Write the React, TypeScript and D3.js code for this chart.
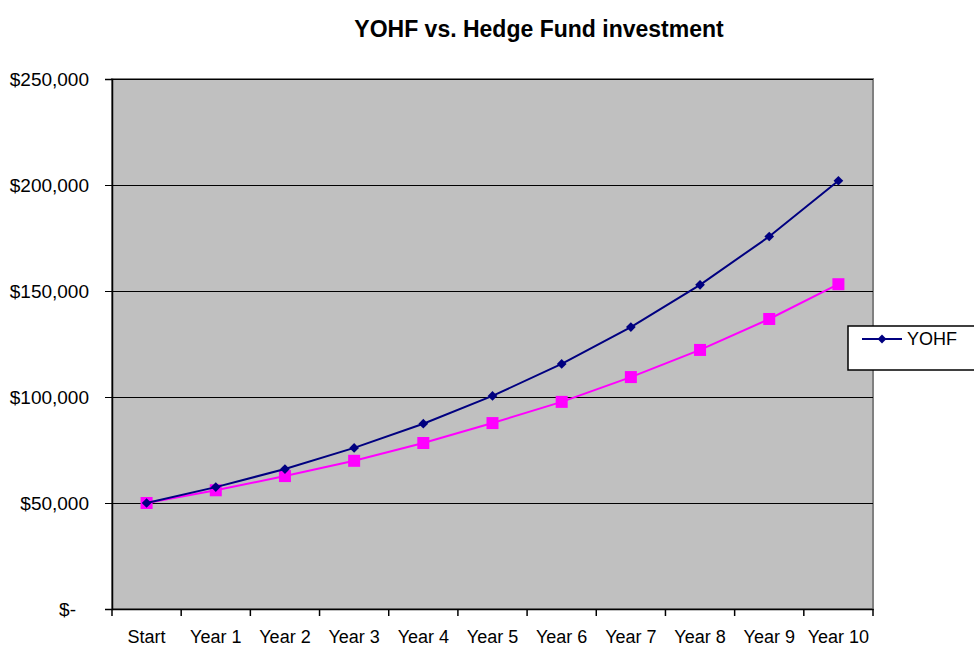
import { useEffect, useRef } from "react";
import * as d3 from "d3";

const categories = ["Start", "Year 1", "Year 2", "Year 3", "Year 4", "Year 5", "Year 6", "Year 7", "Year 8", "Year 9", "Year 10"];
const yohf = [50000, 57500, 66000, 76000, 87400, 100500, 115600, 133000, 152900, 175700, 202000];
const hedge = [50000, 56000, 62700, 69900, 78300, 87700, 97700, 109400, 122200, 136800, 153200];
const yTicks = [0, 50000, 100000, 150000, 200000, 250000];

export default function App() {
  const svgRef = useRef<SVGSVGElement | null>(null);

  useEffect(() => {
    if (!svgRef.current) return;
    const svg = d3.select(svgRef.current);
    svg.selectAll("*").remove();

    const width = 974;
    const height = 663;
    const margin = { top: 79, right: 101, bottom: 54, left: 112 };
    const innerWidth = width - margin.left - margin.right;
    const innerHeight = height - margin.top - margin.bottom;
    const font = "'Liberation Sans', Arial, sans-serif";

    svg.append("rect").attr("width", width).attr("height", height).attr("fill", "#fff");

    const g = svg.append("g").attr("transform", `translate(${margin.left},${margin.top})`);

    const x = d3.scaleBand().domain(categories).range([0, innerWidth]);
    const y = d3.scaleLinear().domain([0, 250000]).range([innerHeight, 0]);

    // plot area
    g.append("rect")
      .attr("width", innerWidth)
      .attr("height", innerHeight)
      .attr("fill", "#c0c0c0")
      .attr("stroke", "#808080")
      .attr("stroke-width", 2);

    // gridlines
    g.selectAll(".grid")
      .data(yTicks.slice(1))
      .join("line")
      .attr("x1", 0)
      .attr("x2", innerWidth)
      .attr("y1", (d) => y(d) + 0.5)
      .attr("y2", (d) => y(d) + 0.5)
      .attr("stroke", "#000")
      .attr("stroke-width", 1.2)
      .attr("shape-rendering", "crispEdges");

    // y axis
    const yAxis = g
      .append("g")
      .call(
        d3
          .axisLeft(y)
          .tickValues(yTicks)
          .tickSize(7)
          .tickPadding(16)
          .tickFormat((d) => (d === 0 ? "$-" : d3.format("$,")(d as number))),
      );
    yAxis.select(".domain").attr("stroke", "#000").attr("stroke-width", 1.5);
    yAxis.selectAll("text").attr("font-family", font).attr("font-size", 19).attr("fill", "#000");
    yAxis.selectAll("text").filter((d) => d === 0).attr("dx", -13);

    // x axis
    const xAxis = g
      .append("g")
      .attr("transform", `translate(0,${innerHeight})`)
      .call(d3.axisBottom(x).tickSize(0).tickPadding(21));
    xAxis.select(".domain").attr("stroke", "#000").attr("stroke-width", 1.5);
    xAxis.selectAll("text").attr("font-family", font).attr("font-size", 18).attr("fill", "#000");

    // category boundary ticks
    const bounds = categories.map((c) => x(c) as number).concat([innerWidth]);
    g.selectAll(".xtick")
      .data(bounds)
      .join("line")
      .attr("x1", (d) => d)
      .attr("x2", (d) => d)
      .attr("y1", innerHeight)
      .attr("y2", innerHeight + 7)
      .attr("stroke", "#000")
      .attr("stroke-width", 1.5);

    const cx = (i: number) => (x(categories[i]) as number) + x.bandwidth() / 2;
    const line = d3
      .line<number>()
      .x((_, i) => cx(i))
      .y((d) => y(d));

    g.append("path").datum(hedge).attr("fill", "none").attr("stroke", "#ff00ff").attr("stroke-width", 2).attr("d", line);
    g.selectAll(".sq")
      .data(hedge)
      .join("rect")
      .attr("x", (_, i) => cx(i) - 6)
      .attr("y", (d) => y(d) - 6)
      .attr("width", 12)
      .attr("height", 12)
      .attr("fill", "#ff00ff");

    g.append("path").datum(yohf).attr("fill", "none").attr("stroke", "#000080").attr("stroke-width", 2).attr("d", line);
    g.selectAll(".dm")
      .data(yohf)
      .join("path")
      .attr("d", d3.symbol(d3.symbolDiamond2, 60)() as string)
      .attr("transform", (d, i) => `translate(${cx(i)},${y(d)})`)
      .attr("fill", "#000080");

    // title
    svg.append("text")
      .attr("x", 539)
      .attr("y", 37)
      .attr("text-anchor", "middle")
      .attr("font-family", font)
      .attr("font-weight", "bold")
      .attr("font-size", 23)
      .text("YOHF vs. Hedge Fund investment");

    // legend
    const lg = svg.append("g").attr("transform", "translate(848,326)");
    lg.append("rect").attr("width", 140).attr("height", 44).attr("fill", "#fff").attr("stroke", "#000").attr("stroke-width", 1.5);
    lg.append("line").attr("x1", 14).attr("x2", 54).attr("y1", 13).attr("y2", 13).attr("stroke", "#000080").attr("stroke-width", 2);
    lg.append("path")
      .attr("d", d3.symbol(d3.symbolDiamond2, 50)() as string)
      .attr("transform", "translate(34,13)")
      .attr("fill", "#000080");
    lg.append("text")
      .attr("x", 59)
      .attr("y", 19)
      .attr("font-family", font)
      .attr("font-size", 18)
      .text("YOHF");
  }, []);

  return (
    <svg
      ref={svgRef}
      width={974}
      height={663}
      style={{ position: "absolute", left: 0, top: 0, display: "block" }}
    />
  );
}
